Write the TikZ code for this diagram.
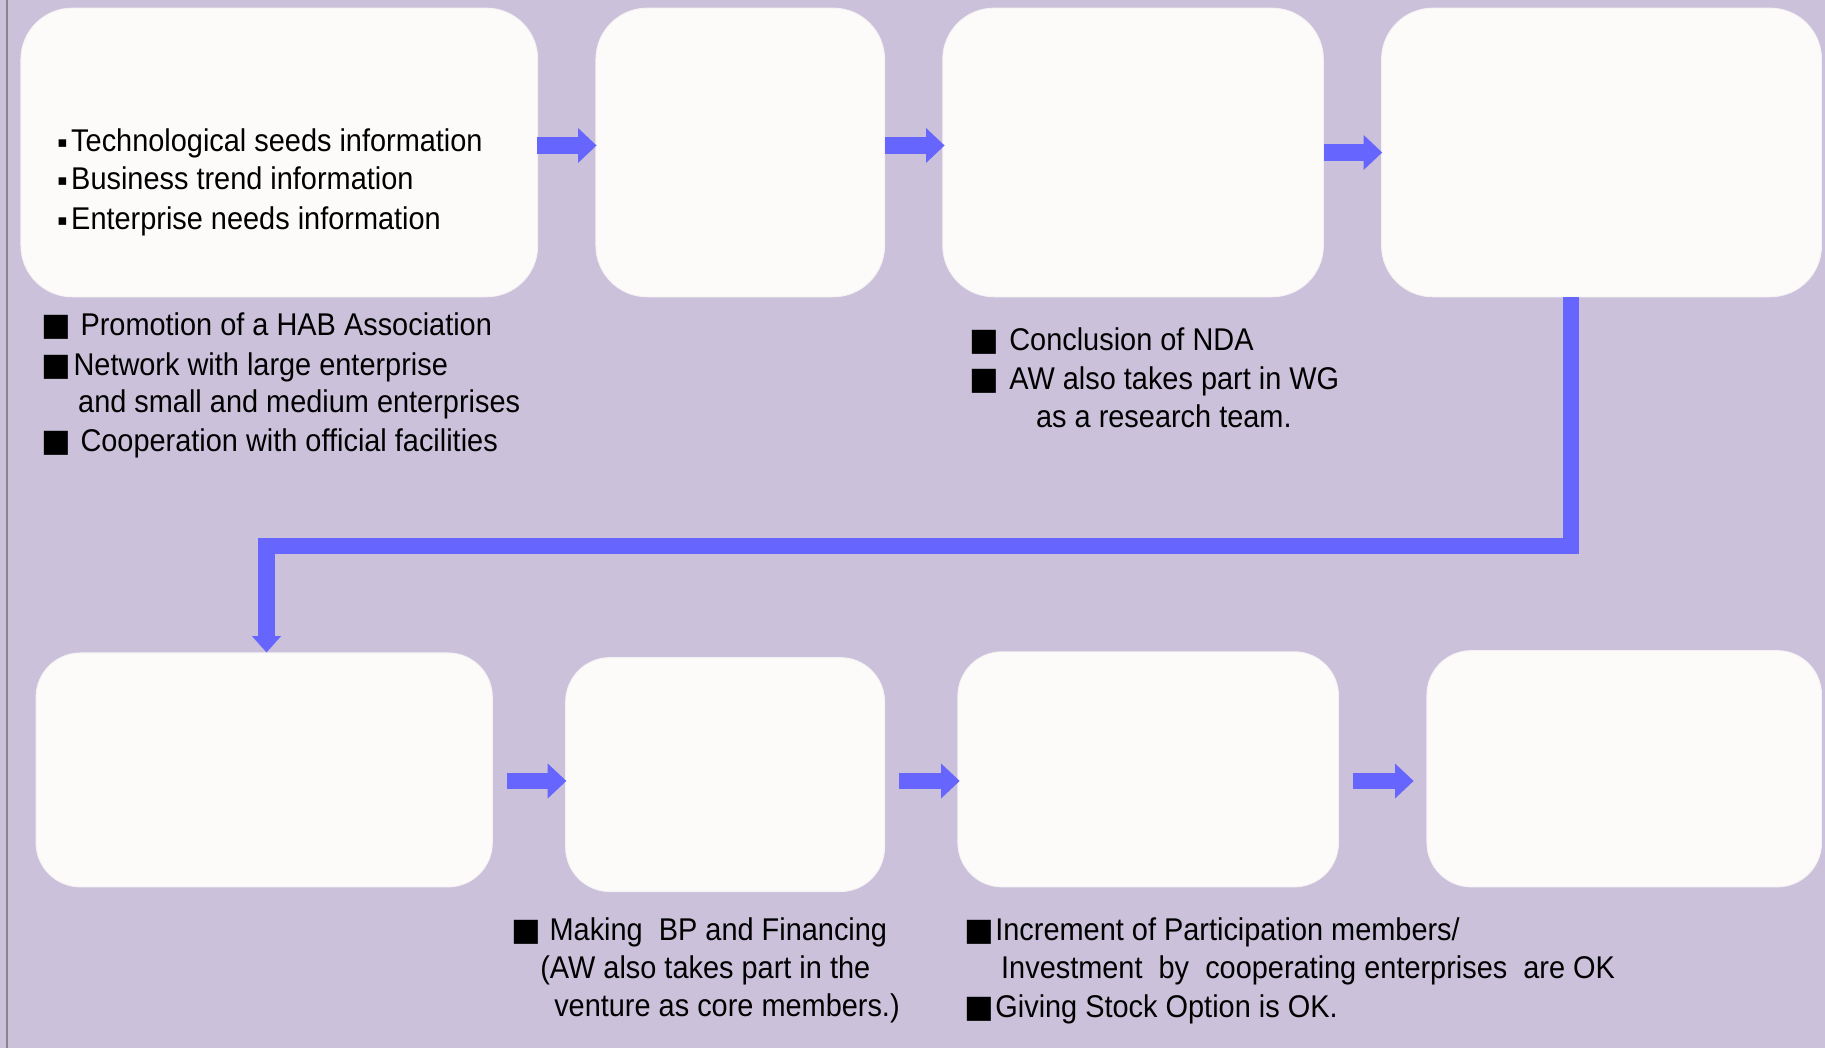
\documentclass[tikz,border=0pt]{standalone}
\usepackage{fontspec}
\setmainfont{Liberation Sans}[FakeStretch=0.92]
\newfontfamily\symfont{DejaVu Sans}
\usetikzlibrary{arrows.meta,calc}
\definecolor{bgc}{RGB}{203,193,218}
\definecolor{boxc}{RGB}{252,251,249}
\definecolor{arrc}{RGB}{102,102,255}
\definecolor{edgec}{RGB}{135,135,135}
\newcommand{\dotbul}{\makebox[15pt][c]{\raisebox{3.5pt}{\symfont\fontsize{13pt}{13pt}\selectfont ▪}}}
\begin{document}
\begin{tikzpicture}[x=1pt,y=-1pt,
  box/.style={fill=boxc, draw=boxc!85!bgc, line width=0.8pt, rounded corners=44pt, inner sep=0},
  lowbox/.style={box, rounded corners=38pt},
  txt/.style={anchor=base west, inner sep=0, font=\fontsize{27pt}{33.5pt}\selectfont},
  sqst/.style={anchor=center, inner sep=0, font=\symfont\fontsize{27pt}{33.5pt}\selectfont},
  blockarrow/.style={draw=arrc, line width=14pt, -{Triangle[width=29pt,length=16pt]}},
  bigarrow/.style={draw=arrc, line width=14pt, miter limit=10, -{Triangle[width=24pt,length=14pt]}}
]
\fill[bgc] (0,0) rectangle (1568,900);
\useasboundingbox (0,0) rectangle (1568,900);
\draw[edgec, line width=2pt] (6,0) -- (6,900);

% top row boxes
\node[box, minimum width=444pt, minimum height=248pt] (b1) at (240,131) {};
\node[box, minimum width=248pt, minimum height=248pt] (b2) at (636,131) {};
\node[box, minimum width=327pt, minimum height=248pt] (b3) at (973.5,131) {};
\node[box, minimum width=378pt, minimum height=248pt] (b4) at (1376,131) {};
% bottom row boxes
\node[lowbox, minimum width=392pt, minimum height=201pt] (b5) at (227,661.5) {};
\node[lowbox, minimum width=274pt, minimum height=201pt] (b6) at (623,665.5) {};
\node[lowbox, minimum width=327pt, minimum height=202pt] (b7) at (986.5,661) {};
\node[lowbox, minimum width=339pt, minimum height=203pt] (b8) at (1395.5,660.5) {};

% top row arrows
\draw[blockarrow] ($(b1.east)+(-1,-6)$) -- ($(b2.west)+(1,-6)$);
\draw[blockarrow] ($(b2.east)+(0,-6)$) -- ($(b3.west)+(2,-6)$);
\draw[blockarrow] ($(b3.east)+(0,0)$) -- ($(b4.west)+(1,0)$);
% bottom row arrows
\draw[blockarrow] ($(b5.east)+(12,9.5)$) -- ($(b6.west)+(1,5.5)$);
\draw[blockarrow] ($(b6.east)+(12,5.5)$) -- ($(b7.west)+(2,10)$);
\draw[blockarrow] ($(b7.east)+(12,10)$) -- ($(b8.west)+(-11,10.5)$);

% long connector
\coordinate (c1) at (1350,469);
\coordinate (c2) at (229,469);
\draw[bigarrow] (b4.south -| c1) -- (c1) -- (c2) -- (b5.north -| c2);

% box 1 text
\node[txt] (t1) at (46,130) {\dotbul Technological seeds information};
\node[txt] (t2) at (46,163) {\dotbul Business trend information};
\node[txt] (t3) at (46,197) {\dotbul Enterprise needs information};

% notes under box 1
\node[sqst] (s1) at (48,281.5) {■};
\node[txt] (t4) at (69,288.5) {Promotion of a HAB Association};
\node[sqst] (s2) at (48,315.5) {■};
\node[txt] (t5) at (63,322.5) {Network with large enterprise};
\node[txt] (t6) at (67,354.5) {and small and medium enterprises};
\node[sqst] (s3) at (48,380.5) {■};
\node[txt] (t7) at (69,387.5) {Cooperation with official facilities};

% notes under box 3
\node[sqst] (s4) at (846,294) {■};
\node[txt] (t8) at (867,301) {Conclusion of NDA};
\node[sqst] (s5) at (846,328) {■};
\node[txt] (t9) at (867,335) {AW also takes part in WG};
\node[txt] (t10) at (890,367) {as a research team.};

% notes under box 6
\node[sqst] (s6) at (452,801) {■};
\node[txt] (t11) at (472,808) {Making\ \ BP and Financing};
\node[txt] (t12) at (464,841) {(AW also takes part in the};
\node[txt] (t13) at (476,873) {venture as core members.)};

% notes under box 7
\node[sqst] (s7) at (841,801) {■};
\node[txt] (t14) at (855,808) {Increment of Participation members/};
\node[txt] (t15) at (860,841) {Investment\ \ by\ \ cooperating enterprises\ \ are OK};
\node[sqst] (s8) at (841,867.5) {■};
\node[txt] (t16) at (855,874.5) {Giving Stock Option is OK.};
\end{tikzpicture}
\end{document}
